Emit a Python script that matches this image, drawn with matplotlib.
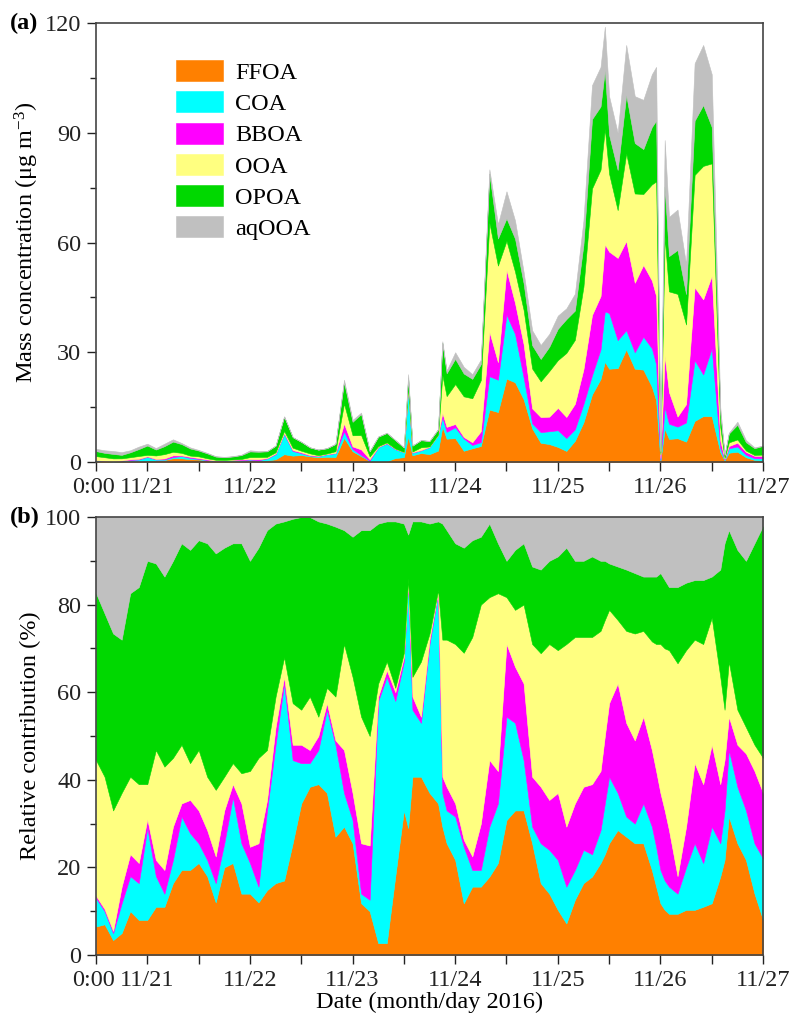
import numpy as np
import matplotlib
matplotlib.use('Agg')
import matplotlib.pyplot as plt
from matplotlib.ticker import MultipleLocator, FixedLocator

plt.rcParams['font.family'] = ['Liberation Serif', 'DejaVu Serif']
plt.rcParams['mathtext.fontset'] = 'custom'
plt.rcParams['mathtext.rm'] = 'Liberation Serif'
plt.rcParams['mathtext.it'] = 'Liberation Serif:italic'

# hours since 11/20 12:00 (2016)
hours = [0, 2, 4, 6, 8, 10, 12, 14, 16, 18,
         20, 22, 24, 26, 28, 30, 32, 34, 36, 38,
         40, 42, 44, 46, 48, 50, 52, 54, 56, 58,
         60, 62, 64, 66, 68, 70, 72, 73, 74, 76,
         78, 80, 81, 82, 84, 86, 88, 90, 92, 94,
         96, 98, 100, 102, 104, 106, 108, 110, 112, 114,
         116, 118, 119, 120, 122, 124, 126, 128, 130, 131,
         132, 133, 134, 136, 138, 140, 142, 144, 146, 147,
         148, 150, 152, 154, 156]

# total OA mass (ug m-3) (a)
total = [3.6, 3.2, 3.0, 2.7, 3.2, 4.2, 5.0, 3.8, 5.0, 6.2,
         5.2, 4.0, 3.3, 2.5, 1.6, 1.4, 1.6, 2.0, 3.2, 3.0,
         3.0, 4.5, 12.5, 6.8, 5.5, 4.0, 3.4, 3.8, 5.0, 22.5,
         11.5, 13.5, 3.0, 7.0, 8.0, 6.0, 4.0, 24.0, 4.5, 6.0,
         5.8, 9.0, 33.0, 25.0, 30.0, 26.0, 24.0, 28.0, 80.0, 65.0,
         74.0, 66.0, 52.0, 36.0, 32.0, 35.0, 40.0, 42.0, 46.0, 66.0,
         103.0, 108.0, 119.0, 100.0, 90.0, 114.0, 100.0, 99.0, 106.0, 108.0,
         3.0, 88.0, 67.0, 69.0, 54.0, 109.0, 114.0, 106.0, 15.0, 2.0,
         8.0, 11.0, 6.0, 4.0, 4.5]

# relative contributions (%)
ffoa = [6.5, 7, 3.4, 5, 10, 8, 8, 11, 11, 16.4,
        19.4, 19.4, 21, 18, 12, 20, 21, 14, 14, 12,
        14.8, 16.4, 17, 25.5, 34.6, 38.4, 39, 37, 27, 29.3,
        25.5, 11.8, 10, 2.7, 2.7, 18, 33, 29, 40.7, 40.7,
        37, 34.6, 29.3, 25.5, 21.7, 11.8, 15.6, 15.6, 17.9, 21,
        30.8, 33, 33, 25.5, 16.4, 14, 10.3, 7.2, 12.6, 16.4,
        17.9, 21, 23, 25.5, 28.5, 27, 25.5, 25.5, 19.4, 15.6,
        11.8, 10.3, 9.4, 9.4, 10.3, 10.3, 11, 11.8, 17.9, 21.7,
        31.6, 25.5, 21.7, 14, 8]
coa = [6.5, 3, 1.6, 6.8, 8, 8.4, 21, 7, 3, 5.3,
       12.2, 8.4, 4.5, 3.7, 4.4, 5.5, 15, 11.5, 7, 3.6,
       18.2, 31.6, 45, 19, 9.2, 5.4, 7.8, 19, 21, 7.7,
       5.3, 2.2, 2.6, 55.3, 60.8, 40, 34, 56, 15.3, 12.3,
       34, 48, 7.7, 7.5, 9.9, 12.9, 3.8, 3.8, 11.4, 13.6,
       23.6, 20, 11.5, 3.8, 9.1, 10, 11.4, 8.4, 6.8, 7.6,
       5.1, 7.5, 11.6, 15.2, 8.5, 4.6, 4.5, 9.1, 9.9, 9.1,
       7.6, 6.7, 6.2, 4.6, 9.7, 15.2, 10, 17.5, 7.6, 11.3,
       15.2, 12.9, 11.3, 11.5, 14]
bboa = [0.5, 0.5, 0.5, 3.8, 5, 4.6, 2, 3.7, 5.4, 7.6,
        3, 7.6, 7.5, 6.8, 6.1, 7.5, 3, 9.1, 3.7, 9.9,
        2.4, 4, 1.5, 3.5, 4.2, 3, 3.2, 1.5, 1, 9.8,
        6.2, 11.5, 12.4, 1, 1.5, 2, 1, 0.5, 3, 1.4,
        1, 0.4, 3.7, 5.4, 3, 1.6, 3.1, 10.6, 15.2, 7.4,
        16.6, 12.8, 17.5, 11.4, 12.9, 11.4, 15.3, 13.7, 15.2, 14.4,
        16, 13.5, 15.4, 16.8, 25, 21.4, 19, 19.8, 17.5, 17.3,
        17.6, 16, 12.9, 4, 9.3, 18.3, 18, 18.7, 13.5, 11.5,
        7.6, 9.6, 13, 16.5, 15]
ooa = [31, 30.2, 27.5, 21.4, 17.7, 18, 8, 25.1, 23.6, 15.7,
       13.4, 8.4, 13.8, 12.2, 15.2, 7.7, 4.8, 6.9, 17.3, 19.5,
       11.4, 7, 4.5, 9.5, 8, 12.2, 4.4, 3.5, 10, 24.2,
       26.5, 28.9, 25, 3, 2, 1, 1, 0.5, 4.5, 12.6,
       1.4, 0.3, 31.3, 33.6, 36.4, 42.7, 50.1, 50, 37.2, 40.6,
       10.7, 13, 18, 30.3, 30.5, 35.6, 32.6, 41.7, 38, 34.2,
       33.6, 32, 26.5, 21.3, 14.5, 21, 24.4, 19.6, 24.8, 29,
       34, 37, 41.1, 48.6, 40.3, 28.2, 32, 29, 24.5, 11.5,
       12.6, 8, 6, 6, 8]
opoa = [38.1, 37.3, 40.4, 35, 41.9, 45, 51, 42.6, 43.4, 45,
        46, 48.7, 47.9, 53.3, 54, 52.3, 50.2, 52.5, 48, 48,
        50.2, 39.5, 31, 42.1, 44, 41, 44.6, 37.5, 38.8, 26,
        32, 42.6, 47, 36.5, 32, 38, 29.5, 10, 35.5, 32,
        25.1, 15.7, 26.5, 25, 23, 24, 22.1, 15.5, 16.8, 11.4,
        8.3, 13.7, 14, 17.7, 19.1, 19, 21.4, 22, 17.4, 17.4,
        18.4, 16, 13.5, 10.6, 12.2, 14, 13.8, 12.4, 14.8, 15.4,
        16.2, 15.6, 14.4, 17.4, 15.4, 13.6, 14.6, 9.4, 24.5, 38,
        30, 36.5, 38, 46, 53]
aqooa = [17.4, 22, 26.6, 28, 17.4, 16, 10, 10.6, 13.6, 10,
         6, 7.5, 5.3, 6, 8.3, 7, 6, 6, 10, 7,
         3, 1.5, 1, 0.4, 0, 0, 1, 1.5, 2.2, 3,
         4.5, 3, 3, 1.5, 1, 1, 1.5, 4, 1, 1,
         1.5, 1, 1.5, 3, 6, 7, 5.3, 4.5, 1.5, 6,
         10, 7.5, 6, 11.3, 12, 10, 9, 7, 10, 10,
         9, 10, 10, 10.6, 11.3, 12, 12.8, 13.6, 13.6, 13.6,
         12.8, 14.4, 16, 16, 15, 14.4, 14.4, 13.6, 12, 6,
         3, 7.5, 10, 6, 2]

names = ['FFOA', 'COA', 'BBOA', 'OOA', 'OPOA', 'aqOOA']
colours = ['#FF8000', '#00FFFF', '#FF00FF', '#FFFF80', '#00D800', '#C0C0C0']

FS = 17.5

t = np.array(hours, dtype=float)
pct = np.array([ffoa, coa, bboa, ooa, opoa, aqooa], dtype=float)
pct = pct / pct.sum(axis=0) * 100
mass = pct * np.array(total) / 100

fig = plt.figure(figsize=(7.94, 10.23), dpi=100)
ax1 = fig.add_axes([0.1209, 0.5484, 0.8401, 0.4291])
ax2 = fig.add_axes([0.1209, 0.0665, 0.8401, 0.4281])

for ax, data in [(ax1, mass), (ax2, pct)]:
    polys = ax.stackplot(t, *data, colors=colours, labels=names, linewidth=0)
    for p, c in zip(polys, colours):
        p.set_edgecolor(c)
        p.set_linewidth(0.4)
    ax.set_xlim(0, 156)
    ax.xaxis.set_major_locator(FixedLocator(np.arange(0, 157, 12)))
    lab = []
    for i, h in enumerate(np.arange(0, 157, 12)):
        if i % 2 == 1:
            lab.append('11/%d' % (21 + i // 2))
        else:
            lab.append('')
    ax.set_xticklabels(lab)
    ax.tick_params(axis='both', which='major', direction='out', length=6.5,
                   width=1, pad=4, labelsize=FS, colors='#222222')
    ax.tick_params(axis='y', which='minor', direction='out', length=4.5, width=1,
                   colors='#222222')
    for s in ax.spines.values():
        s.set_linewidth(1.2)
        s.set_color('#444444')
    ax.annotate('0:00', xy=(4.3, 0), xycoords=('data', 'axes fraction'),
                xytext=(0, -10.5), textcoords='offset points',
                ha='right', va='top', fontsize=FS, color='#222222')

ax1.set_ylim(0, 120)
ax1.yaxis.set_major_locator(MultipleLocator(30))
ax1.yaxis.set_minor_locator(MultipleLocator(15))
ax1.set_ylabel('Mass concentration (μg m$^{-3}$)', fontsize=FS, labelpad=3)

ax2.set_ylim(0, 100)
ax2.yaxis.set_major_locator(MultipleLocator(20))
ax2.yaxis.set_minor_locator(MultipleLocator(10))
ax2.set_ylabel('Relative contribution (%)', fontsize=FS, labelpad=3)
ax2.set_xlabel('Date (month/day 2016)', fontsize=FS, labelpad=1)

ax1.legend(loc='upper left', bbox_to_anchor=(0.12, 0.915), frameon=False,
           fontsize=FS, handlelength=1.93, handleheight=0.95, labelspacing=0.3,
           handletextpad=0.5, borderpad=0, borderaxespad=0)

fig.text(0.012, 0.9775, '(a)', fontsize=FS, fontweight='bold', va='center')
fig.text(0.012, 0.4946, '(b)', fontsize=FS, fontweight='bold', va='center')

fig.savefig('out.png', dpi=100)
